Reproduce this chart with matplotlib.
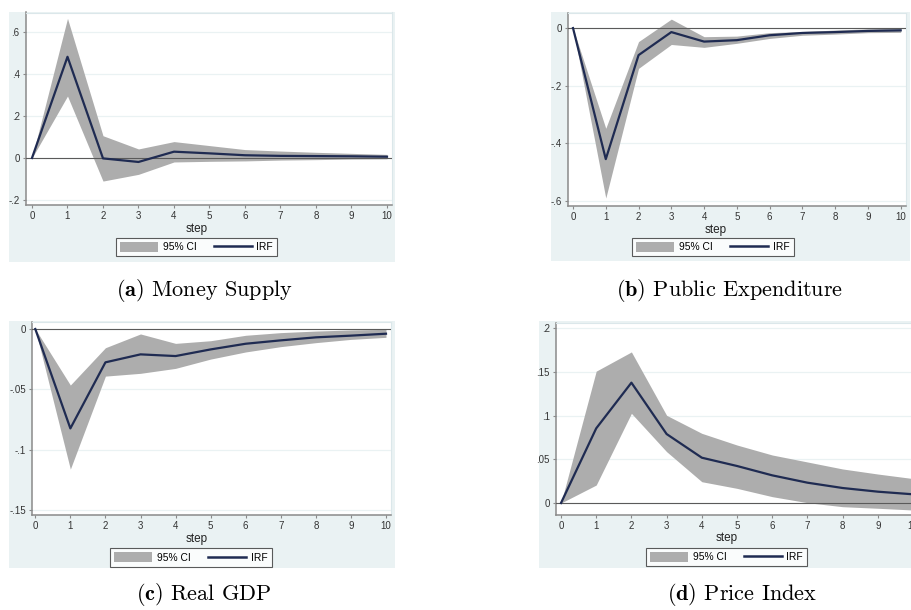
import numpy as np
import matplotlib
matplotlib.use("Agg")
import matplotlib.pyplot as plt
from matplotlib.patches import Rectangle, Patch
from matplotlib.lines import Line2D

# impulse responses, steps 0..10
steps = np.arange(11)

money_irf = [0, 0.482, -0.002, -0.019, 0.030, 0.022, 0.013, 0.010, 0.009, 0.008, 0.006]
money_lo = [0, 0.295, -0.110, -0.078, -0.019, -0.016, -0.014, -0.010, -0.008, -0.005, -0.004]
money_hi = [0, 0.665, 0.106, 0.043, 0.078, 0.059, 0.040, 0.033, 0.027, 0.022, 0.017]

spend_irf = [0, -0.455, -0.094, -0.014, -0.047, -0.042, -0.025, -0.017, -0.014, -0.010, -0.008]
spend_lo = [0, -0.590, -0.140, -0.057, -0.067, -0.053, -0.036, -0.025, -0.021, -0.016, -0.015]
spend_hi = [0, -0.348, -0.047, 0.031, -0.030, -0.028, -0.016, -0.012, -0.007, -0.003, 0.000]

gdp_irf = [0, -0.0823, -0.0276, -0.0210, -0.0224, -0.0169, -0.0122, -0.0094, -0.0069, -0.0055, -0.0039]
gdp_lo = [0, -0.1160, -0.0390, -0.0367, -0.0326, -0.0249, -0.0190, -0.0146, -0.0113, -0.0086, -0.0069]
gdp_hi = [0, -0.0464, -0.0155, -0.0041, -0.0119, -0.0097, -0.0052, -0.0030, -0.0017, -0.0008, -0.0003]

price_irf = [0, 0.0855, 0.1378, 0.0790, 0.0519, 0.0424, 0.0317, 0.0233, 0.0172, 0.0130, 0.0100]
price_lo = [0, 0.0206, 0.1027, 0.0588, 0.0244, 0.0168, 0.0073, 0.0004, -0.0042, -0.0060, -0.0080]
price_hi = [0, 0.1510, 0.1730, 0.1004, 0.0798, 0.0664, 0.0550, 0.0470, 0.0390, 0.0332, 0.0280]

yticks_money = [-0.2, 0, 0.2, 0.4, 0.6]
ylabels_money = ['-.2', '0', '.2', '.4', '.6']
yticks_spend = [-0.6, -0.4, -0.2, 0]
ylabels_spend = ['-.6', '-.4', '-.2', '0']
yticks_gdp = [-0.15, -0.1, -0.05, 0]
ylabels_gdp = ['-.15', '-.1', '-.05', '0']
yticks_price = [0, 0.05, 0.1, 0.15, 0.2]
ylabels_price = ['0', '.05', '.1', '.15', '.2']

captions = ['(a)', '(b)', '(c)', '(d)']
names = ['Money Supply', 'Public Expenditure', 'Real GDP', 'Price Index']

W, H = 912, 610
BG = '#eaf2f3'
CI_COL = '#adadad'
IRF_COL = '#1f2b52'
AX_COL = '#8a8a8a'

plt.rcParams['font.family'] = ['Liberation Sans', 'DejaVu Sans']
plt.rcParams['mathtext.fontset'] = 'cm'

fig = plt.figure(figsize=(W / 100, H / 100), dpi=100, facecolor='white')


def px_box(x0, y0, x1, y1):
    return [x0 / W, 1 - y1 / H, (x1 - x0) / W, (y1 - y0) / H]


def fx(x):
    return x / W


def fy(y):
    return 1 - y / H


panels = [
    # bg box, plot box, xlim, ylim, ticks, labels, step label pos, legend centre
    dict(bg=(9, 12, 395, 262), plot=(26, 12.5, 392, 205), xlim=(-0.169, 10.141), ylim=(-0.224, 0.693),
         yt=yticks_money, yl=ylabels_money, data=(money_irf, money_lo, money_hi),
         step=(197, 229), leg=(196.5, 247), cap=(204, 290)),
    dict(bg=(551, 12, 910, 261), plot=(568, 12.5, 906, 205.5), xlim=(-0.153, 10.162), ylim=(-0.616, 0.054),
         yt=yticks_spend, yl=ylabels_spend, data=(spend_irf, spend_lo, spend_hi),
         step=(716, 230), leg=(713, 247), cap=(730, 290)),
    dict(bg=(9, 321, 395, 568), plot=(32, 322, 391, 515), xlim=(-0.094, 10.143), ylim=(-0.154, 0.0058),
         yt=yticks_gdp, yl=ylabels_gdp, data=(gdp_irf, gdp_lo, gdp_hi),
         step=(197, 539), leg=(191, 557.5), cap=(204, 595)),
    dict(bg=(539, 321, 930, 568), plot=(556, 322.5, 918, 515), xlim=(-0.142, 10.14), ylim=(-0.0137, 0.2067),
         yt=yticks_price, yl=ylabels_price, data=(price_irf, price_lo, price_hi),
         step=(727, 538), leg=(726.5, 557), cap=(742, 595)),
]

for i, p in enumerate(panels):
    x0, y0, x1, y1 = p['bg']
    fig.patches.append(Rectangle((fx(x0), fy(y1)), (x1 - x0) / W, (y1 - y0) / H,
                                 transform=fig.transFigure, facecolor=BG, edgecolor='none', zorder=-5))

    ax = fig.add_axes(px_box(*p['plot']))
    ax.set_facecolor('white')
    irf, lo, hi = p['data']
    ax.fill_between(steps, lo, hi, color=CI_COL, linewidth=0, zorder=2)
    ax.plot(steps, irf, color=IRF_COL, linewidth=1.6, zorder=4)
    ax.axhline(0, color='#5a5a5a', linewidth=0.8, zorder=3)

    ax.set_xlim(*p['xlim'])
    ax.set_ylim(*p['ylim'])
    ax.set_xticks(steps)
    ax.set_xticklabels([str(s) for s in steps])
    ax.set_yticks(p['yt'])
    ax.set_yticklabels(p['yl'])
    ax.grid(axis='y', color=BG, linewidth=0.9, zorder=1)
    ax.set_axisbelow(True)

    for side in ['top', 'right']:
        ax.spines[side].set_color('#dbe7ea')
        ax.spines[side].set_linewidth(0.8)
    for side in ['left', 'bottom']:
        ax.spines[side].set_color(AX_COL)
        ax.spines[side].set_linewidth(1.1)
    ax.tick_params(direction='out', length=2.5, width=0.8, color=AX_COL,
                   labelsize=7, labelcolor='#333333', pad=2)

    fig.text(fx(p['step'][0]), fy(p['step'][1]), 'step', ha='center', va='center',
             fontsize=8.5, color='#222222')

    handles = [Patch(facecolor=CI_COL, edgecolor='none'),
               Line2D([], [], color=IRF_COL, linewidth=1.8)]
    leg = fig.legend(handles, ['95% CI', 'IRF'], loc='center', ncol=2,
                     bbox_to_anchor=(fx(p['leg'][0]), fy(p['leg'][1])),
                     fontsize=7.4, frameon=True, fancybox=False, handlelength=3.7,
                     handleheight=1.1, handletextpad=0.45, columnspacing=1.7,
                     borderpad=0.4, borderaxespad=0)
    leg.get_frame().set_edgecolor('#333333')
    leg.get_frame().set_linewidth(0.8)

    fig.text(fx(p['cap'][0]), fy(p['cap'][1]),
             r'$\mathbf{' + captions[i] + r'}$ ' + names[i],
             ha='center', va='center', fontsize=16, family='cmr10')

fig.savefig('out.png', dpi=100, facecolor='white')
